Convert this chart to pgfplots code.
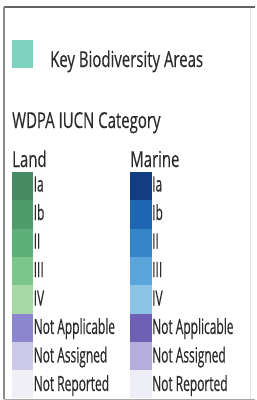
\documentclass[border=0pt]{standalone}
\usepackage{pgfplots}
\pgfplotsset{compat=1.18}
\usepackage{fontspec}
\setmainfont{Open Sans}[FakeStretch=0.68, FakeBold=0.3]
\newfontfamily\labfont{Open Sans}[FakeStretch=0.57, FakeBold=0.3]
\definecolor{txt}{HTML}{2B2B2B}
\definecolor{frame}{HTML}{6E6E6E}
\definecolor{kba}{HTML}{7DD3BF}
\definecolor{L1}{HTML}{478A63}
\definecolor{L2}{HTML}{4F9C6B}
\definecolor{L3}{HTML}{5DB078}
\definecolor{L4}{HTML}{7BC68B}
\definecolor{L5}{HTML}{A7D9A6}
\definecolor{L6}{HTML}{8C86CE}
\definecolor{L7}{HTML}{CDC9E8}
\definecolor{L8}{HTML}{F0EFF6}
\definecolor{M1}{HTML}{133D82}
\definecolor{M2}{HTML}{1E66B1}
\definecolor{M3}{HTML}{3586C8}
\definecolor{M4}{HTML}{5AA6DC}
\definecolor{M5}{HTML}{8CC4E5}
\definecolor{M6}{HTML}{6D60B5}
\definecolor{M7}{HTML}{B4ADDD}
\definecolor{M8}{HTML}{EEEEF6}
\tikzset{
  big/.style={anchor=base west, inner sep=0pt, text=txt, font=\fontsize{22}{24}\selectfont},
  lab/.style={anchor=base west, inner sep=0pt, text=txt, font=\labfont\fontsize{21}{23}\selectfont},
}
\begin{document}
\begin{tikzpicture}
\begin{axis}[
  scale only axis, width=255pt, height=400pt,
  xmin=0, xmax=255, ymin=0, ymax=400, y dir=reverse,
  hide axis, clip=false,
]
% background
\addplot[fill=white, draw=none] coordinates {(0,0) (255,0) (255,400) (0,400)} -- cycle;
% frame
\addplot[draw=frame!90!black, line width=2.4pt] coordinates {(4,7) (255,7)};
\addplot[draw=frame!80, line width=1.3pt] coordinates {(4,7) (4,399)};
\addplot[draw=frame!60, line width=1pt] coordinates {(4,399) (255,399)};
\addplot[draw=black!10, line width=0.8pt] coordinates {(250,8) (250,399)};
% KBA swatch
\addplot[fill=kba, draw=none] coordinates {(12,40) (33,40) (33,68) (12,68)} -- cycle;
% Land swatches
\addplot[fill=L1, draw=none] coordinates {(12,172.0) (33,172.0) (33,200.3) (12,200.3)} -- cycle;
\addplot[fill=L2, draw=none] coordinates {(12,200.3) (33,200.3) (33,228.6) (12,228.6)} -- cycle;
\addplot[fill=L3, draw=none] coordinates {(12,228.6) (33,228.6) (33,256.9) (12,256.9)} -- cycle;
\addplot[fill=L4, draw=none] coordinates {(12,256.9) (33,256.9) (33,285.2) (12,285.2)} -- cycle;
\addplot[fill=L5, draw=none] coordinates {(12,285.2) (33,285.2) (33,313.5) (12,313.5)} -- cycle;
\addplot[fill=L6, draw=none] coordinates {(12,313.5) (33,313.5) (33,341.8) (12,341.8)} -- cycle;
\addplot[fill=L7, draw=none] coordinates {(12,341.8) (33,341.8) (33,370.1) (12,370.1)} -- cycle;
\addplot[fill=L8, draw=none] coordinates {(12,370.1) (33,370.1) (33,398.4) (12,398.4)} -- cycle;
% Marine swatches
\addplot[fill=M1, draw=none] coordinates {(130,172.0) (152,172.0) (152,200.3) (130,200.3)} -- cycle;
\addplot[fill=M2, draw=none] coordinates {(130,200.3) (152,200.3) (152,228.6) (130,228.6)} -- cycle;
\addplot[fill=M3, draw=none] coordinates {(130,228.6) (152,228.6) (152,256.9) (130,256.9)} -- cycle;
\addplot[fill=M4, draw=none] coordinates {(130,256.9) (152,256.9) (152,285.2) (130,285.2)} -- cycle;
\addplot[fill=M5, draw=none] coordinates {(130,285.2) (152,285.2) (152,313.5) (130,313.5)} -- cycle;
\addplot[fill=M6, draw=none] coordinates {(130,313.5) (152,313.5) (152,341.8) (130,341.8)} -- cycle;
\addplot[fill=M7, draw=none] coordinates {(130,341.8) (152,341.8) (152,370.1) (130,370.1)} -- cycle;
\addplot[fill=M8, draw=none] coordinates {(130,370.1) (152,370.1) (152,398.4) (130,398.4)} -- cycle;
% texts
\node[big] at (axis cs:50,67) {Key Biodiversity Areas};
\node[big] at (axis cs:12,128) {WDPA IUCN Category};
\node[big] at (axis cs:12,167) {Land};
\node[big] at (axis cs:130,167) {Marine};
\node[lab] at (axis cs:33.5,191.5) {Ia};
\node[lab] at (axis cs:33.5,220.0) {Ib};
\node[lab] at (axis cs:33.5,248.5) {II};
\node[lab] at (axis cs:33.5,277.0) {III};
\node[lab] at (axis cs:33.5,305.5) {IV};
\node[lab] at (axis cs:33.5,334.0) {Not Applicable};
\node[lab] at (axis cs:33.5,362.5) {Not Assigned};
\node[lab] at (axis cs:33.5,391.0) {Not Reported};
\node[lab] at (axis cs:152,191.5) {Ia};
\node[lab] at (axis cs:152,220.0) {Ib};
\node[lab] at (axis cs:152,248.5) {II};
\node[lab] at (axis cs:152,277.0) {III};
\node[lab] at (axis cs:152,305.5) {IV};
\node[lab] at (axis cs:152,334.0) {Not Applicable};
\node[lab] at (axis cs:152,362.5) {Not Assigned};
\node[lab] at (axis cs:152,391.0) {Not Reported};
\end{axis}
\end{tikzpicture}
\end{document}
